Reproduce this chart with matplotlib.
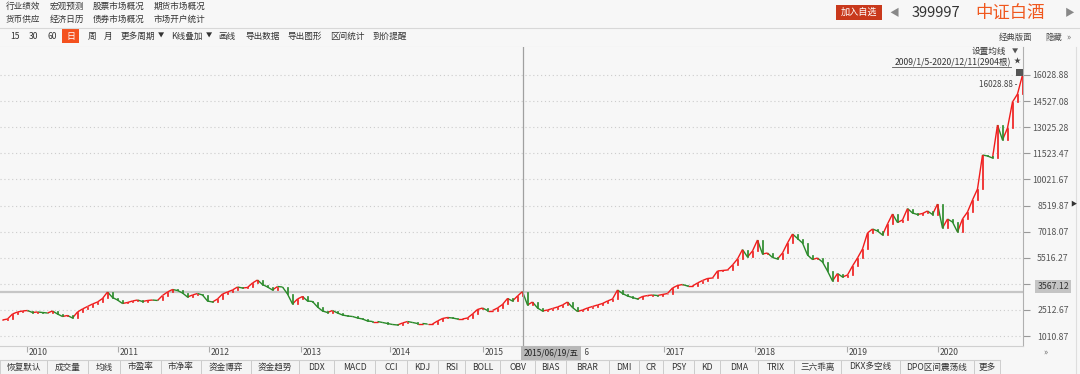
import matplotlib
matplotlib.use("Agg")
import matplotlib.pyplot as plt
from matplotlib.collections import LineCollection
from matplotlib.patches import Rectangle
from matplotlib.transforms import Bbox, IdentityTransform, TransformedBbox, blended_transform_factory

plt.rcParams["font.family"] = ["Noto Sans CJK SC", "DejaVu Sans"]

# 中证白酒(399997) 日K 收盘价，按图中大约每 5 像素读一次
closes = [
    1932, 1989, 2277, 2392, 2450, 2478, 2363, 2392, 2363, 2334,
    2450, 2277, 2133, 2191, 2047, 2392, 2565, 2708, 2852, 2967,
    3169, 3543, 3226, 3082, 2881, 2939, 3025, 3082, 2996, 3054,
    3082, 3054, 3341, 3543, 3687, 3629, 3485, 3255, 3370, 3456,
    3370, 3025, 2967, 3140, 3428, 3543, 3658, 3830, 3773, 3802,
    4061, 4233, 3974, 3830, 3658, 3859, 3830, 3428, 2852, 3140,
    3284, 3025, 2996, 2680, 2450, 2363, 2478, 2334, 2219, 2162,
    2133, 2047, 1989, 1874, 1845, 1845, 1788, 1730, 1673, 1644,
    1759, 1845, 1788, 1730, 1730, 1701, 1701, 1874, 2018, 2076,
    2047, 1989, 1989, 2047, 2277, 2536, 2622, 2478, 2478, 2622,
    2824, 3169, 3025, 3313, 3567.12, 2795, 2967, 2622, 2450, 2507,
    2593, 2680, 2795, 2967, 2651, 2421, 2507, 2622, 2708, 2795,
    2881, 3025, 3140, 3658, 3456, 3313, 3226, 3140, 3284, 3341,
    3370, 3341, 3399, 3456, 3773, 3917, 3974, 3888, 3888, 4061,
    4204, 4320, 4348, 4751, 4780, 4809, 5096, 5442, 5988, 5557,
    5902, 6535, 5729, 5787, 5528, 5442, 5787, 6362, 6880, 6621,
    6362, 5672, 5413, 5499, 5269, 4751, 4176, 4607, 4406, 4521,
    5039, 5499, 6017, 6938, 7168, 7053, 6823, 7455, 8031, 7542,
    7686, 8347, 8088, 8002, 8060, 8204, 8002, 8606, 7225, 7743,
    7571, 6995, 7743, 8146, 8836, 9469, 11426, 11368, 11253, 13152,
    12289, 12979, 14475, 14935, 16028.88,
]

y_ticks = [1010.87, 2512.67, 4014.47, 5516.27, 7018.07, 8519.87,
           10021.67, 11523.47, 13025.28, 14527.08, 16028.88]
year_labels = ["2010", "2011", "2012", "2013", "2014", "2015",
               "2016", "2017", "2018", "2019", "2020"]
year_start_bar = [4.9, 23.1, 41.3, 59.7, 77.5, 96.1, 113.2, 132.2, 150.5, 168.8, 187.1]

cross_idx = 104
cross_date = "2015/06/19/五"
range_text = "2009/1/5-2020/12/11(2904根)"

header_row1 = ["行业绩效", "宏观预测", "股票市场概况", "期货市场概况"]
header_row2 = ["货币供应", "经济日历", "债券市场概况", "市场开户统计"]
toolbar = [("15", 10), ("30", 29), ("60", 48), ("周", 88), ("月", 104),
           ("更多周期", 121), ("▼", 158), ("K线叠加", 171), ("▼", 206),
           ("画线", 218), ("导出数据", 245), ("导出图形", 287),
           ("区间统计", 330), ("到价提醒", 372)]
tab_labels = ["恢复默认", "成交量", "均线", "市盈率", "市净率", "资金博弈", "资金趋势",
              "DDX", "MACD", "CCI", "KDJ", "RSI", "BOLL", "OBV", "BIAS", "BRAR",
              "DMI", "CR", "PSY", "KD", "DMA", "TRIX", "三六乖离", "DKX多空线",
              "DPO区间震荡线", "更多"]
tab_edges = [0, 47, 88, 120, 161, 201, 251, 299, 334, 375, 407, 438, 465, 500,
             535, 566, 609, 639, 663, 694, 720, 758, 794, 841, 900, 974, 1000]

UP = "#f01c1c"
DOWN = "#2a8a2a"
BG = "#f7f7f7"

fig = plt.figure(figsize=(10.8, 3.74), dpi=100)
fig.patch.set_facecolor(BG)

# 背景层（像素坐标）放界面文字
bg = fig.add_axes([0, 0, 1, 1], zorder=0)
bg.set_xlim(0, 1080)
bg.set_ylim(374, 0)
bg.axis("off")

for x, t in zip([6, 50, 93, 154], header_row1):
    bg.text(x, 6, t, fontsize=6.2, color="#333", va="center")
for x, t in zip([6, 50, 93, 154], header_row2):
    bg.text(x, 19, t, fontsize=6.2, color="#333", va="center")

bg.add_patch(Rectangle((836, 5), 46, 15, fc="#c9391c", ec="none"))
bg.text(859, 12.5, "加入自选", fontsize=6.6, color="white", ha="center", va="center")
bg.text(894, 13, "◀", fontsize=7, color="#888", ha="center", va="center")
bg.text(912, 13, "399997", fontsize=10.5, color="#333", va="center")
bg.text(975, 13, "中证白酒", fontsize=12.5, color="#f0581e", va="center")
bg.text(1070, 13, "▶", fontsize=7, color="#888", ha="center", va="center")

bg.plot([0, 1080], [27.5, 27.5], color="#d8d8d8", lw=0.8)
bg.plot([0, 1023], [47, 47], color="#d8d8d8", lw=0.8)

bg.add_patch(Rectangle((62, 29), 17, 14, fc="#f4511e", ec="none"))
bg.text(70.5, 36, "日", fontsize=6.4, color="white", ha="center", va="center")
for t, x in toolbar:
    fs = 4.5 if t == "▼" else 6.2
    bg.text(x, 36, t, fontsize=fs, color="#333", va="center")
bg.text(999, 37, "经典版面", fontsize=6, color="#444", va="center")
bg.text(1045, 37, "隐藏", fontsize=6, color="#444", va="center")
bg.text(1066, 37, "»", fontsize=6, color="#666", va="center")

bg.plot([1076, 1076], [47, 374], color="#dedede", lw=0.8)
bg.text(1073, 203, "▶", fontsize=4.5, color="#333", ha="center", va="center")
bg.text(1045, 352, "»", fontsize=6, color="#666", ha="center", va="center")

# 底部指标按钮
bg.plot([0, 1000], [359.5, 359.5], color="#cfcfcf", lw=0.8)
for left, right, t in zip(tab_edges[:-1], tab_edges[1:], tab_labels):
    bg.add_patch(Rectangle((left, 360), right - left, 14, fc="#f4f4f4", ec="#c8c8c8", lw=0.6))
    bg.text((left + right) / 2, 367, t, fontsize=6.2, color="#333", ha="center", va="center")

# K线主图
ax = fig.add_axes([0, 28 / 374, 1023 / 1080, 299 / 374], zorder=1)
ax.set_facecolor(BG)
n = len(closes)
xs = list(range(n))
opens = [closes[0]] + closes[:-1]
colors = [UP if c >= o else DOWN for o, c in zip(opens, closes)]

# 相邻收盘之间的折线段 + 细实体，模拟密集日K的锯齿带
segs = [[(i - 1, opens[i]), (i, closes[i])] for i in range(1, n)]
ax.add_collection(LineCollection(segs, colors=colors[1:], linewidths=1.0, zorder=3))
ax.bar(xs, [c - o for o, c in zip(opens, closes)], bottom=opens, width=0.35,
       color=colors, edgecolor=colors, linewidth=0.5, zorder=3)

ax.set_xlim(-0.5, 204.1)
ax.set_ylim(435.5, 17640)

for side in ["top", "left"]:
    ax.spines[side].set_visible(False)
ax.spines["right"].set_color("#b0b0b0")
ax.spines["bottom"].set_color("#d0d0d0")
ax.spines["bottom"].set_linewidth(0.8)

ax.yaxis.tick_right()
ax.set_yticks(y_ticks)
ax.set_yticklabels([f"{v:.2f}" for v in y_ticks])
ax.tick_params(axis="y", direction="out", length=5, color="#999",
               labelsize=6.3, labelcolor="#555", pad=28)
for lbl in ax.get_yticklabels():
    lbl.set_horizontalalignment("right")
ax.grid(axis="y", color="#cccccc", lw=0.8, linestyle=(0, (1, 2.5)))

ax.set_xticks(year_start_bar)
ax.tick_params(axis="x", direction="out", length=4, color="#aaa", labelbottom=False)
x_tr = blended_transform_factory(ax.transData, ax.transAxes)
y_tr = blended_transform_factory(ax.transAxes, ax.transData)
# 2016 被日期框盖住，只露出最后一个字
visible = TransformedBbox(Bbox([[584.5, 0], [1080, 374]]), IdentityTransform())
for pos, lab in zip(year_start_bar, year_labels):
    t = ax.annotate(lab, xy=(pos, 0), xycoords=x_tr, xytext=(1.5, -5),
                    textcoords="offset points", ha="left", va="center",
                    fontsize=6.2, color="#444", annotation_clip=False)
    if lab == "2016":
        t.set_clip_box(visible)
        t.set_clip_on(True)

# 十字光标
cross_close = closes[cross_idx]
ax.axvline(cross_idx, color="#a0a0a0", lw=0.9, zorder=4)
ax.axhline(cross_close, color="#c6c6c6", lw=1.6, zorder=2)
ax.annotate(f"{cross_close:.2f}", xy=(1.045, cross_close), xycoords=y_tr,
            xytext=(0, 3.5), textcoords="offset points", ha="right", va="center",
            fontsize=6.3, color="#333", annotation_clip=False, zorder=10,
            bbox=dict(boxstyle="square,pad=0.25", fc="#c4c4c4", ec="none"))
ax.annotate(cross_date, xy=(cross_idx, 0), xycoords=x_tr, xytext=(1, -5),
            textcoords="offset points", ha="left", va="center", fontsize=6,
            color="#222", annotation_clip=False, zorder=10,
            bbox=dict(boxstyle="square,pad=0.3", fc="#b8b8b8", ec="none"))

# 最高点标注
peak_idx = max(range(n), key=lambda i: closes[i])
peak = closes[peak_idx]
ax.annotate(f"{peak:.2f} -", xy=(peak_idx, peak), xytext=(-4, -7),
            textcoords="offset points", ha="right", va="center",
            fontsize=5.8, color="#444", annotation_clip=False)

# 右上角设置区
top = fig.add_axes([0, 0, 1, 1], zorder=5)
top.set_xlim(0, 1080)
top.set_ylim(374, 0)
top.axis("off")
top.text(1006, 51.5, "设置均线", fontsize=6.2, color="#333", ha="right", va="center")
top.text(1015, 51.5, "▼", fontsize=4.5, color="#555", ha="center", va="center")
top.text(1011, 62.5, range_text, fontsize=6.2, color="#333", ha="right", va="center")
top.plot([892, 1011], [67, 67], color="#555", lw=0.6)
top.text(1017, 61.5, "★", fontsize=5, color="#444", ha="center", va="center")
top.add_patch(Rectangle((1015.5, 68.5), 7, 7, fc="#555", ec="none"))

fig.savefig("out.png", dpi=100, facecolor=fig.get_facecolor())
